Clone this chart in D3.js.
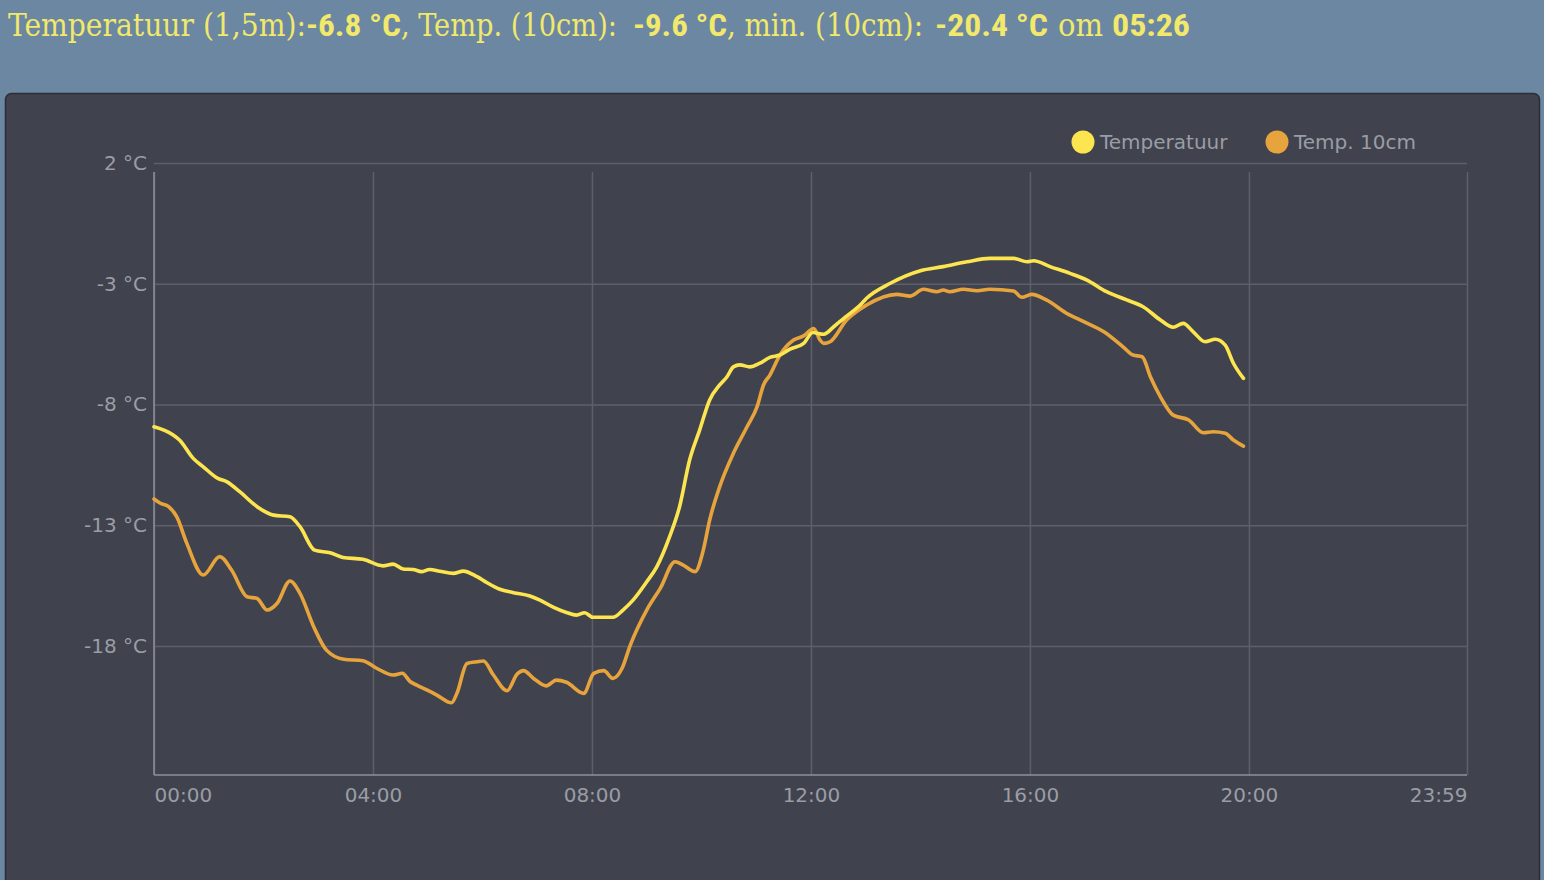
<!DOCTYPE html>
<html>
<head>
    <meta charset="utf-8">
    <title>Temperatuur vandaag</title>
    <style type="text/css">
        html, body {
            margin: 0;
            padding: 0;
            background: #6b87a2;
        }

        svg text {
            font-family: "DejaVu Sans", Verdana, sans-serif;
        }
    </style>
</head>
<body>
<div id="chart"></div>

<script src="https://cdn.jsdelivr.net/npm/d3@7"></script>
<script type="text/javascript">
    // Temperatuur (1,5m)
    var tempTimes = ["00:00", "00:21", "00:28", "00:43", "00:54", "01:10", "01:20", "01:34", "01:53", "02:11",
        "02:29", "02:40", "02:56", "03:13", "03:27", "03:49", "04:11", "04:22", "04:33", "04:44",
        "04:53", "05:02", "05:13", "05:28", "05:39", "05:54", "06:05", "06:19", "06:34", "06:52",
        "07:03", "07:18", "07:32", "07:43", "07:52", "08:01", "08:23", "08:34", "08:45", "09:00",
        "09:11", "09:25", "09:36", "09:47", "09:58", "10:09", "10:20", "10:28", "10:35", "10:42",
        "10:53", "11:04", "11:15", "11:26", "11:37", "11:52", "12:02", "12:14", "12:25", "12:36",
        "12:54", "13:01", "13:27", "14:00", "14:25", "14:51", "15:16", "15:42", "15:57", "16:04",
        "16:22", "16:44", "17:02", "17:24", "17:46", "18:04", "18:23", "18:37", "18:48", "18:59",
        "19:12", "19:23", "19:34", "19:43", "19:54"];
    var tempValues = [-8.92, -9.26, -9.47, -10.23, -10.58, -11.06, -11.20, -11.61, -12.23, -12.58,
        -12.65, -13.06, -14.03, -14.14, -14.33, -14.41, -14.68, -14.61, -14.81, -14.83,
        -14.92, -14.83, -14.90, -14.99, -14.90, -15.13, -15.38, -15.65, -15.79, -15.93,
        -16.10, -16.40, -16.61, -16.72, -16.62, -16.81, -16.81, -16.51, -16.10, -15.34,
        -14.72, -13.48, -12.23, -10.30, -9.06, -7.81, -7.19, -6.85, -6.44, -6.36,
        -6.44, -6.29, -6.05, -5.95, -5.71, -5.47, -5.02, -5.09, -4.78, -4.43,
        -3.88, -3.60, -2.98, -2.46, -2.29, -2.09, -1.95, -1.95, -2.09, -2.05,
        -2.29, -2.57, -2.84, -3.33, -3.67, -3.95, -4.50, -4.80, -4.64, -4.99,
        -5.40, -5.30, -5.54, -6.29, -6.92];

    // Temp. 10cm
    var soilTimes = ["00:00", "00:07", "00:16", "00:25", "00:36", "00:54", "01:12", "01:25", "01:42", "01:53",
        "02:04", "02:15", "02:29", "02:40", "02:55", "03:09", "03:28", "03:49", "04:04", "04:22",
        "04:32", "04:41", "04:48", "04:59", "05:10", "05:26", "05:32", "05:43", "05:54", "06:01",
        "06:12", "06:27", "06:38", "06:45", "06:56", "07:10", "07:21", "07:32", "07:51", "08:02",
        "08:13", "08:23", "08:33", "08:42", "09:00", "09:15", "09:31", "09:40", "09:53", "10:02",
        "10:09", "10:20", "10:35", "10:50", "11:01", "11:08", "11:15", "11:26", "11:41", "11:52",
        "12:03", "12:10", "12:14", "12:21", "12:39", "13:01", "13:34", "13:49", "14:03", "14:18",
        "14:25", "14:32", "14:47", "15:02", "15:16", "15:42", "15:51", "16:02", "16:18", "16:40",
        "16:59", "17:21", "17:42", "17:53", "18:03", "18:12", "18:23", "18:37", "18:54", "19:10",
        "19:21", "19:34", "19:43", "19:54"];
    var soilValues = [-11.91, -12.09, -12.23, -12.65, -13.75, -15.06, -14.30, -14.85, -15.96, -16.03,
        -16.51, -16.23, -15.31, -15.82, -17.20, -18.17, -18.55, -18.61, -18.92, -19.20,
        -19.13, -19.48, -19.62, -19.82, -20.03, -20.35, -19.96, -18.72, -18.65, -18.62,
        -19.20, -19.85, -19.16, -19.02, -19.34, -19.65, -19.41, -19.50, -19.96, -19.13,
        -19.02, -19.34, -18.92, -17.96, -16.51, -15.60, -14.51, -14.65, -14.92, -14.03,
        -12.78, -11.40, -10.02, -8.92, -8.09, -7.19, -6.78, -5.95, -5.33, -5.16,
        -4.85, -5.33, -5.47, -5.40, -4.50, -3.88, -3.44, -3.51, -3.23, -3.33,
        -3.26, -3.33, -3.23, -3.29, -3.23, -3.30, -3.56, -3.44, -3.67, -4.22,
        -4.57, -4.99, -5.61, -5.95, -6.02, -6.85, -7.68, -8.44, -8.64, -9.17,
        -9.13, -9.19, -9.47, -9.72];

    var yTicks = [2, -3, -8, -13, -18];
    var xTickLabels = ["00:00", "04:00", "08:00", "12:00", "16:00", "20:00", "23:59"];

    var seriesNames = ["Temperatuur", "Temp. 10cm"];
    var seriesColors = ["#fde54f", "#e7a33c"];

    var width = 1544, height = 880;
    var parseTime = d3.timeParse("%H:%M");

    var svg = d3.select('#chart')
        .append('svg')
        .attr("width", width)
        .attr("height", height);

    // titel regel
    var titleParts = [
        {t: "Temperatuur (1,5m):", x: 8, w: 298, bold: false},
        {t: "-6.8 °C", x: 306, w: 95, bold: true},
        {t: ", Temp. (10cm):", x: 401, w: 216, bold: false},
        {t: "-9.6 °C", x: 633, w: 94, bold: true},
        {t: ", min. (10cm):", x: 727, w: 196, bold: false},
        {t: "-20.4 °C", x: 935, w: 113, bold: true},
        {t: "om", x: 1058, w: 45, bold: false},
        {t: "05:26", x: 1112, w: 78, bold: true}
    ];
    svg.selectAll('text.title')
        .data(titleParts)
        .enter()
        .append('text')
        .attr("class", "title")
        .attr("x", function (d) { return d.x; })
        .attr("y", 36)
        .attr("textLength", function (d) { return d.w; })
        .attr("lengthAdjust", "spacingAndGlyphs")
        .style("font-family", function (d) {
            return d.bold ? "'Roboto Condensed', Roboto, sans-serif" : "'Roboto Slab', 'DejaVu Serif Condensed', 'DejaVu Serif', serif";
        })
        .style("font-weight", function (d) { return d.bold ? 700 : 300; })
        .style("font-size", "31px")
        .style("fill", "#f1e86c")
        .text(function (d) { return d.t; });

    // paneel
    svg.append('rect')
        .attr("x", 5.5).attr("y", 93.5)
        .attr("width", 1534).attr("height", 800)
        .attr("rx", 6)
        .style("fill", "#40434d")
        .style("stroke", "#2c2e35")
        .style("stroke-width", 1.5);

    var plotLeft = 154, plotRight = 1467, plotTop = 163, plotBottom = 775;

    var x = d3.scaleTime()
        .domain([parseTime("00:00"), parseTime("23:59")])
        .range([plotLeft, plotRight]);

    var y = d3.scaleLinear()
        .domain([-23.34, 2])
        .range([plotBottom, plotTop]);

    // horizontale rasterlijnen
    svg.append('g')
        .attr("transform", "translate(" + plotLeft + ",0)")
        .call(d3.axisLeft(y).tickValues(yTicks).tickSize(-(plotRight - plotLeft)).tickPadding(7)
            .tickFormat(function (d) { return d + " °C"; }))
        .call(function (g) {
            g.select('.domain').remove();
            g.selectAll('.tick line').style("stroke", "#5d606b").style("stroke-width", 1.5);
            g.selectAll('.tick text')
                .style("fill", "#9a9da6")
                .style("font-size", "20px")
                .style("font-family", "'DejaVu Sans', sans-serif");
        });

    // verticale rasterlijnen
    var xTickDates = xTickLabels.map(parseTime);
    svg.append('g')
        .attr("transform", "translate(0," + plotBottom + ")")
        .call(d3.axisBottom(x).tickValues(xTickDates).tickSize(-(plotBottom - 172)).tickPadding(13)
            .tickFormat(d3.timeFormat("%H:%M")))
        .call(function (g) {
            g.select('.domain').remove();
            g.selectAll('.tick line').style("stroke", "#5d606b").style("stroke-width", 1.5);
            g.selectAll('.tick text')
                .style("fill", "#9a9da6")
                .style("font-size", "20px")
                .style("font-family", "'DejaVu Sans', sans-serif")
                .attr("text-anchor", function (d, i) {
                    if (i === 0) return "start";
                    if (i === xTickLabels.length - 1) return "end";
                    return "middle";
                });
        });

    // assen
    svg.append('line')
        .attr("x1", plotLeft).attr("x2", plotLeft)
        .attr("y1", 172).attr("y2", plotBottom)
        .style("stroke", "#8d909a").style("stroke-width", 1.5);
    svg.append('line')
        .attr("x1", plotLeft).attr("x2", plotRight)
        .attr("y1", plotBottom).attr("y2", plotBottom)
        .style("stroke", "#8d909a").style("stroke-width", 1.5);

    // lijnen
    var series = [
        tempTimes.map(function (t, i) { return {time: parseTime(t), value: tempValues[i]}; }),
        soilTimes.map(function (t, i) { return {time: parseTime(t), value: soilValues[i]}; })
    ];

    var line = d3.line()
        .x(function (d) { return x(d.time); })
        .y(function (d) { return y(d.value); })
        .curve(d3.curveMonotoneX);

    // oranje eerst, geel erboven
    [1, 0].forEach(function (k) {
        svg.append('path')
            .datum(series[k])
            .attr("d", line)
            .style("fill", "none")
            .style("stroke", seriesColors[k])
            .style("stroke-width", 3.6)
            .style("stroke-linejoin", "round")
            .style("stroke-linecap", "round");
    });

    // legenda
    var legendX = [1083, 1277];
    var legend = svg.selectAll('g.legend')
        .data(seriesNames)
        .enter()
        .append('g')
        .attr("class", "legend")
        .attr("transform", function (d, i) { return "translate(" + legendX[i] + ",142)"; });

    legend.append('circle')
        .attr("r", 11.5)
        .style("fill", function (d, i) { return seriesColors[i]; });

    legend.append('text')
        .attr("x", 17)
        .attr("dy", "0.35em")
        .style("fill", "#9a9da6")
        .style("font-size", "20px")
        .text(function (d) { return d; });
</script>
</body>
</html>
